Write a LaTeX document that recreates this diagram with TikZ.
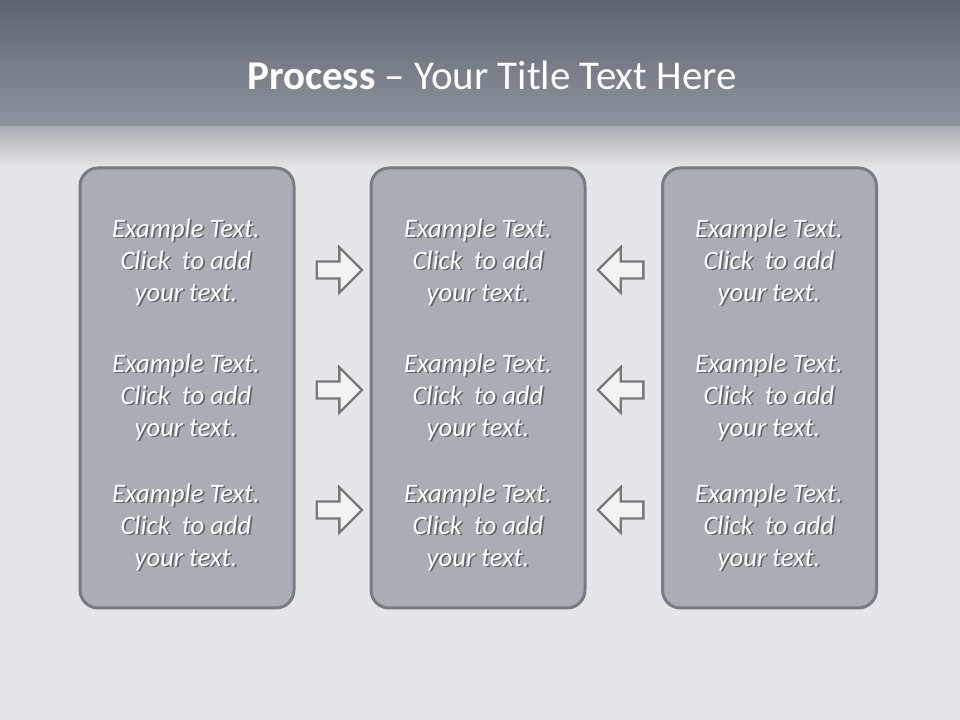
\documentclass[tikz,border=0pt]{standalone}
\usepackage{fontspec}
\setmainfont{Carlito}
\usetikzlibrary{shapes.arrows,positioning}

% Colours of the slide
\definecolor{headtop}{HTML}{5E656E}
\definecolor{headbot}{HTML}{8D949D}
\definecolor{clothtop}{HTML}{A9ADB3}
\definecolor{cloth}{HTML}{E5E6E9}
\definecolor{panelfill}{HTML}{A9AEB6}
\definecolor{panelborder}{HTML}{777C84}
\definecolor{arrowborder}{HTML}{797979}
\definecolor{arrowfill}{HTML}{F1F2F3}
\definecolor{txtshadow}{HTML}{5F646B}

% One line of white text with a soft dark shadow
\newcommand\shadowline[1]{\leavevmode\rlap{\raisebox{-1.3pt}[0pt][0pt]{\hspace{1.3pt}\textcolor{txtshadow}{#1}}}#1}
\newcommand\sampletext{\shadowline{Example Text.}\\\shadowline{Click~ to add}\\\shadowline{your text.}}

\tikzset{
    panel/.style={draw=panelborder, fill=panelfill, line width=2.25pt,
        rounded corners=13.5pt, minimum width=160.5pt, minimum height=330pt, inner sep=0pt},
    sample/.style={text=white, font=\fontsize{20}{24}\selectfont\itshape, align=center},
    rarrow/.style={single arrow, draw=arrowborder, fill=arrowfill, line width=1.7pt,
        minimum width=32pt, minimum height=34pt, single arrow head extend=10.5pt,
        inner xsep=0pt, inner ysep=5.6pt},
    larrow/.style={rarrow, shape border rotate=180}
}

\begin{document}
\begin{tikzpicture}[x=0.75pt,y=0.75pt]
        % Page and background
        \useasboundingbox (0,0) rectangle (960,720);
        \fill[cloth] (0,0) rectangle (960,552);
        \shade[top color=clothtop, bottom color=cloth] (0,594) rectangle (960,552);
        \shade[top color=headtop, bottom color=headbot] (0,720) rectangle (960,594);

        % Title
        \node[text=white, font=\fontsize{30.7}{36}\selectfont] (title) at (492,645)
            {\textbf{Process} -- Your Title Text Here};

        % The three panels
        \node[panel] (leftpanel) at (187,332) {};
        \node[panel] (midpanel) at (478,332) {};
        \node[panel] (rightpanel) at (769.5,332) {};

        % Texts in the panels
        \foreach \row/\ty in {1/458,2/323,3/193}{
            \node[sample] (left-\row) at (186,\ty) {\sampletext};
            \node[sample] (mid-\row) at (478,\ty) {\sampletext};
            \node[sample] (right-\row) at (769,\ty) {\sampletext};
        }

        % Block arrows towards the middle panel
        \foreach \row/\ay in {1/450,2/330,3/210}{
            \node[rarrow] (rarrow-\row) at (335,\ay) {};
            \node[larrow] (larrow-\row) at (625,\ay) {};
        }
    \end{tikzpicture}
\end{document}
